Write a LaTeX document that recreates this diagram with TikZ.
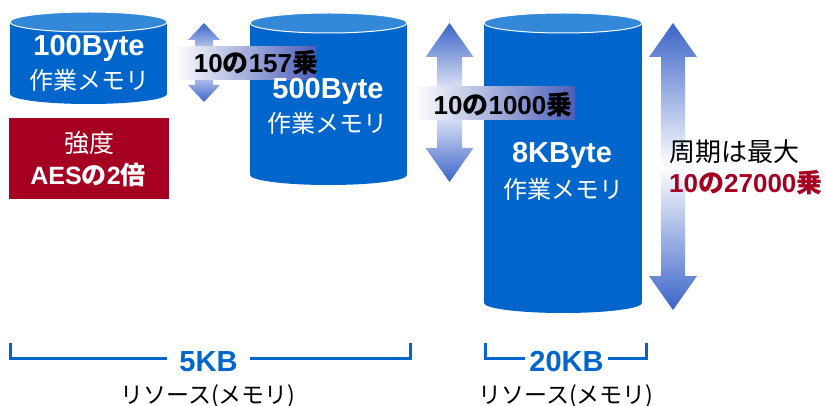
\documentclass[tikz,border=0pt]{standalone}
\usepackage{fontspec}
\setmainfont{Liberation Sans}
\newfontfamily\jp{Noto Sans CJK JP}
\newcommand\J[1]{{\jp #1}}
\definecolor{cylbody}{RGB}{0,102,204}
\definecolor{cyltop}{RGB}{52,136,216}
\definecolor{aesred}{RGB}{165,0,33}
\definecolor{arrblue}{RGB}{60,100,200}
\definecolor{bandblue}{RGB}{75,95,185}
\definecolor{brk}{RGB}{0,102,204}

\newcommand\mycyl[4]{% x1 x2 ytop ybot
  \pgfmathsetmacro\mycx{(#1+#2)/2}%
  \pgfmathsetmacro\myrx{(#2-#1)/2}%
  \fill[cylbody] (#1,{#3+10}) rectangle (#2,{#4-10});
  \fill[cylbody] (\mycx,{#4-10}) ellipse[x radius=\myrx, y radius=10];
  \filldraw[fill=cyltop, draw=white, line width=1pt] (\mycx,{#3+10}) ellipse[x radius=\myrx, y radius=10];
}
\newcommand\dblarrow[6]{% cx top bot hw hl sw
  \shade[top color=arrblue, bottom color=arrblue, middle color=white]
    (#1,#2) -- ({#1+#4},{#2+#5}) -- ({#1+#6},{#2+#5}) -- ({#1+#6},{#3-#5})
    -- ({#1+#4},{#3-#5}) -- (#1,#3) -- ({#1-#4},{#3-#5}) -- ({#1-#6},{#3-#5})
    -- ({#1-#6},{#2+#5}) -- ({#1-#4},{#2+#5}) -- cycle;
}

\begin{document}
\begin{tikzpicture}[x=1pt,y=-1pt,
  numtxt/.style={text=white,font=\fontsize{29}{31}\selectfont\bfseries,anchor=base,inner sep=0pt},
  jptxt/.style={text=white,font=\fontsize{24}{26}\selectfont\jp,anchor=base,inner sep=0pt},
  lbl/.style={text=black,font=\fontsize{26}{28}\selectfont\bfseries,anchor=base,inner sep=0pt},
  kb/.style={text=brk,font=\fontsize{29}{31}\selectfont\bfseries,anchor=base,fill=white,inner ysep=1pt},
  res/.style={text=black,font=\fontsize{23}{25}\selectfont\jp,anchor=base,inner sep=0pt},
  bracket/.style={draw=brk,line width=3pt}]
\useasboundingbox (0,0) rectangle (826,406);

% cylinders
\mycyl{10}{167}{12}{104}
\mycyl{250}{407}{13}{185}
\mycyl{484}{642}{13}{313}

% red box
\node[fill=aesred, minimum width=160pt, minimum height=81pt, anchor=north west, inner sep=0pt] (aes) at (9,118) {};

% arrows
\dblarrow{204}{23}{102}{16}{17}{9}
\dblarrow{449.5}{23}{182}{24}{34}{12.5}
\dblarrow{673}{23}{310}{24}{34}{12}

% label bands
\shade[left color=white, right color=bandblue] (175,47) rectangle (316,80);
\shade[left color=white, right color=bandblue] (415,87) rectangle (575,120);

% cylinder texts
\node[numtxt] (c1n) at (89,56) {100Byte};
\node[jptxt] (c1j) at (89.5,90) {作業メモリ};
\node[numtxt] (c2n) at (328,99) {500Byte};
\node[jptxt] (c2j) at (327.5,133) {作業メモリ};
\node[numtxt] (c3n) at (562,163) {8KByte};
\node[jptxt] (c3j) at (563,198) {作業メモリ};

% red box texts
\node[jptxt,font=\fontsize{25}{27}\selectfont\jp] (aes1) at (89,153) {強度};
\node[text=white,font=\fontsize{25}{27}\selectfont\bfseries,anchor=base,inner sep=0pt] (aes2) at (88,184) {AES\J{の}2\J{倍}};

% arrow labels
\node[lbl] (l1) at (256,73) {10\J{の}157\J{乗}};
\node[lbl] (l2) at (503,115) {10\J{の}1000\J{乗}};
\node[res,font=\fontsize{26}{28}\selectfont\jp,anchor=base west] (p1) at (669,161) {周期は最大};
\node[lbl,text=aesred,anchor=base west] (p2) at (669,193) {10\J{の}27000\J{乗}};

% brackets
\coordinate (b1a) at (10,343); \coordinate (b1b) at (10,358.5);
\coordinate (b1c) at (410,358.5); \coordinate (b1d) at (410,343);
\draw[bracket] (b1a) -- (b1b) -- (b1c) -- (b1d);
\node[kb,inner xsep=12pt] (kb1) at (208.5,371) {5KB};
\node[res] (r1) at (208,403) {リソース(メモリ)};

\coordinate (b2a) at (485,343); \coordinate (b2b) at (485,358.5);
\coordinate (b2c) at (646,358.5); \coordinate (b2d) at (646,343);
\draw[bracket] (b2a) -- (b2b) -- (b2c) -- (b2d);
\node[kb,inner xsep=4pt] (kb2) at (566.5,371) {20KB};
\node[res] (r2) at (566,403) {リソース(メモリ)};
\end{tikzpicture}
\end{document}
